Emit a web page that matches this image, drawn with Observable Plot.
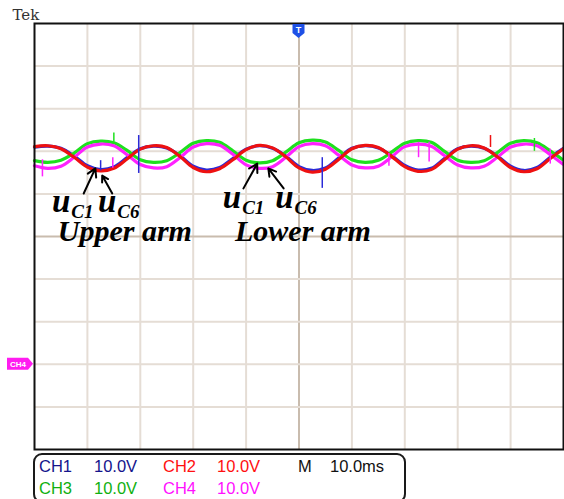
<!DOCTYPE html>
<html>
<head>
<meta charset="utf-8">
<script src="https://cdn.jsdelivr.net/npm/d3@7"></script>
<script src="https://cdn.jsdelivr.net/npm/@observablehq/plot@0.6"></script>
<style>
  html, body { margin: 0; padding: 0; background: #fff; }
  #wrap { position: relative; width: 564px; height: 499px; overflow: hidden; }
  #legend {
    position: absolute; left: 33px; top: 453px; width: 373px; height: 50px;
    border: 2px solid #1a1a1a; border-radius: 9px; box-sizing: border-box;
    font-family: "Liberation Sans", Arial, sans-serif; font-size: 16.5px;
  }
  #legend span { position: absolute; white-space: nowrap; }
</style>
</head>
<body>
<div id="wrap">
  <div id="chart"></div>
  <div id="legend"></div>
</div>
<script>
// Time axis: 10 ms per division, 10 divisions across the screen
const time = d3.range(0, 100.01, 2.5);

// Sub-module capacitor voltages (V), sampled every 2.5 ms
const ch1 = [51.0, 51.2, 50.7, 48.9, 46.6, 45.7, 46.3, 48.5, 50.6, 51.2, 50.8, 49.0, 46.5, 45.6, 46.2, 48.3, 50.5, 51.3, 50.7, 48.9, 46.4, 45.5, 46.1, 48.4, 50.7, 51.3, 50.8, 49.0, 46.7, 45.6, 46.0, 48.3, 50.6, 51.2, 50.7, 48.9, 46.5, 45.5, 46.2, 48.6, 50.7];
const ch2 = [51.1, 51.3, 50.6, 48.6, 46.3, 45.4, 46.0, 48.2, 50.5, 51.3, 50.9, 48.8, 46.2, 45.2, 45.9, 48.0, 50.4, 51.4, 50.8, 48.7, 46.1, 45.1, 45.8, 48.1, 50.6, 51.4, 50.9, 48.8, 46.4, 45.3, 45.7, 48.0, 50.5, 51.3, 50.8, 48.7, 46.2, 45.2, 45.9, 48.3, 50.6];
const ch3 = [47.8, 47.4, 47.9, 49.6, 51.8, 52.4, 52.0, 50.2, 48.0, 47.4, 47.8, 49.7, 51.9, 52.5, 52.1, 50.1, 47.9, 47.3, 47.8, 49.8, 52.0, 52.6, 52.2, 50.2, 48.0, 47.4, 47.9, 49.8, 51.9, 52.5, 52.1, 50.0, 47.9, 47.4, 47.8, 49.7, 51.9, 52.5, 52.0, 50.1, 47.9];
const ch4 = [46.6, 46.0, 46.5, 48.6, 51.0, 51.7, 51.3, 49.2, 46.9, 46.1, 46.4, 48.5, 51.0, 51.8, 51.4, 49.3, 46.8, 46.0, 46.4, 48.6, 51.1, 51.8, 51.3, 49.1, 46.8, 46.1, 46.5, 48.7, 51.1, 51.7, 51.2, 49.0, 46.8, 46.1, 46.5, 48.6, 51.0, 51.7, 51.3, 49.2, 46.9];

// Switching spikes on the traces: time (ms), from (V), to (V), channel
const spikeTime = [19.7, 12.5, 54.4, 86.2, 1.5, 72.6, 74.6, 97.5, 15.0, 14.8, 67.0, 94.5];
const spikeFrom = [53.7, 47.8, 48.5, 53.7, 48.0, 52.1, 52.1, 50.5, 52.2, 48.5, 49.5, 53.0];
const spikeTo   = [44.8, 45.4, 41.3, 50.9, 44.0, 48.5, 47.5, 47.0, 54.3, 46.0, 46.5, 50.0];
const spikeCh   = ["CH1", "CH1", "CH1", "CH2", "CH4", "CH4", "CH4", "CH4", "CH3", "CH4", "CH4", "CH3"];

// Annotation labels: voltage symbols (main letter + subscript) and arm names
const symbolLabels = ["uC1", "uC6", "uC1", "uC6"];
const armLabels = ["Upper arm", "Lower arm"];

const traceColor = {CH1: "#2a2ad8", CH2: "#ee1111", CH3: "#1ee01e", CH4: "#ff22ff"};
const textColor = {CH1: "#14148c", CH2: "#ff1010", CH3: "#10b010", CH4: "#ff10ff"};
const scaleText = ["10.0V", "10.0V", "10.0V", "10.0V"];

const series = {CH1: ch1, CH2: ch2, CH3: ch3, CH4: ch4};
const rows = [];
for (const c of ["CH1", "CH3", "CH4", "CH2"]) {
  series[c].forEach((v, i) => rows.push({ch: c, t: time[i], v}));
}
const spikes = spikeTime.map((t, i) => ({t, v1: spikeFrom[i], v2: spikeTo[i], ch: spikeCh[i]}));

const gridT = d3.range(10, 100, 10);
const gridV = d3.range(-10, 80, 10);

const serif = "'Liberation Serif', 'Times New Roman', serif";
const ann = {fontFamily: serif, fontWeight: "bold", fontStyle: "italic", fill: "#000",
  textAnchor: "start", lineAnchor: "bottom"};

// Turn "uC1" into a main letter followed by a lowered, smaller subscript
function subscripted(index, scales, values, dimensions, context, next) {
  const g = next(index, scales, values, dimensions, context);
  d3.select(g).selectAll("text").each(function () {
    const s = this.textContent;
    const el = d3.select(this).text(null);
    el.append("tspan").text(s[0]);
    el.append("tspan").attr("font-size", 19).attr("dx", 1).attr("dy", 6).text(s.slice(1));
  });
  return g;
}

const plot = Plot.plot({
  width: 564,
  height: 452,
  marginLeft: 34,
  marginRight: 1,
  marginTop: 23,
  marginBottom: 3,
  x: {domain: [0, 100], axis: null},
  y: {domain: [-20, 80], axis: null},
  marks: [
    Plot.ruleX(gridT, {stroke: d => d === 50 ? "#c9bcae" : "#e5ddd5", strokeWidth: 2}),
    Plot.ruleY(gridV, {stroke: d => d === 30 ? "#c9bcae" : "#e5ddd5", strokeWidth: 2}),
    Plot.line(rows, {x: "t", y: "v", z: "ch", stroke: d => traceColor[d.ch], strokeWidth: 3.2, curve: "catmull-rom"}),
    Plot.ruleX(spikes, {x: "t", y1: "v1", y2: "v2", stroke: d => traceColor[d.ch], strokeWidth: 1.5}),
    Plot.arrow([
      {x1: 9.3, y1: 40.1, x2: 11.5, y2: 46.0},
      {x1: 14.7, y1: 40.1, x2: 12.8, y2: 44.3},
      {x1: 39.5, y1: 41.3, x2: 42.1, y2: 47.1},
      {x1: 47.1, y1: 41.3, x2: 44.2, y2: 46.0}
    ], {x1: "x1", y1: "y1", x2: "x2", y2: "y2", stroke: "#000", strokeWidth: 2, headLength: 9}),
    Plot.text(symbolLabels, {x: [3.3, 12.0, 35.6, 45.5], y: [35.8, 35.8, 36.8, 36.8], ...ann,
      fontSize: 33, render: subscripted}),
    Plot.text(armLabels, {x: [4.4, 37.9], y: [29.0, 29.0], ...ann, fontSize: 30}),
    Plot.frame({stroke: "#111", strokeWidth: 2}),
    Plot.text(["Tek"], {frameAnchor: "top-left", dx: -22, dy: -4, textAnchor: "start", lineAnchor: "bottom",
      fontFamily: "'DejaVu Serif', serif", fontSize: 15, fill: "#333", letterSpacing: 1})
  ]
});

// Trigger marker at the horizontal centre and CH4 ground marker on the left edge
const sx = plot.scale("x"), sy = plot.scale("y");
const svg = d3.select(plot);
const trigX = sx.apply(50), screenTop = sy.apply(80);
svg.append("path")
  .attr("d", `M${trigX - 6},${screenTop + 1}h12v9l-6,5l-6,-5z`)
  .attr("fill", "#1e50e6");
svg.append("text").attr("x", trigX).attr("y", screenTop + 10).attr("text-anchor", "middle")
  .attr("font-family", "'Liberation Sans', Arial, sans-serif").attr("font-size", 9)
  .attr("font-weight", "bold").attr("fill", "#fff").text("T");
const gy = sy.apply(0);
svg.append("path")
  .attr("d", `M7,${gy - 6}h21l5,6l-5,6h-21z`)
  .attr("fill", "#ff1cf0");
svg.append("text").attr("x", 18).attr("y", gy + 3).attr("text-anchor", "middle")
  .attr("font-family", "'Liberation Sans', Arial, sans-serif").attr("font-size", 8)
  .attr("font-weight", "bold").attr("fill", "#fff").text("CH4");

document.getElementById("chart").appendChild(plot);

// Channel / timebase readout box
const legend = d3.select("#legend");
const items = [
  {text: "CH1", x: 4, y: 2, c: textColor.CH1}, {text: scaleText[0], x: 59, y: 2, c: textColor.CH1},
  {text: "CH2", x: 128, y: 2, c: textColor.CH2}, {text: scaleText[1], x: 182, y: 2, c: textColor.CH2},
  {text: "M", x: 263, y: 2, c: "#111"}, {text: "10.0ms", x: 295, y: 2, c: "#111"},
  {text: "CH3", x: 4, y: 24, c: textColor.CH3}, {text: scaleText[2], x: 59, y: 24, c: textColor.CH3},
  {text: "CH4", x: 128, y: 24, c: textColor.CH4}, {text: scaleText[3], x: 182, y: 24, c: textColor.CH4}
];
for (const it of items) {
  legend.append("span").style("left", it.x + "px").style("top", it.y + "px")
    .style("color", it.c).text(it.text);
}
</script>
</body>
</html>
